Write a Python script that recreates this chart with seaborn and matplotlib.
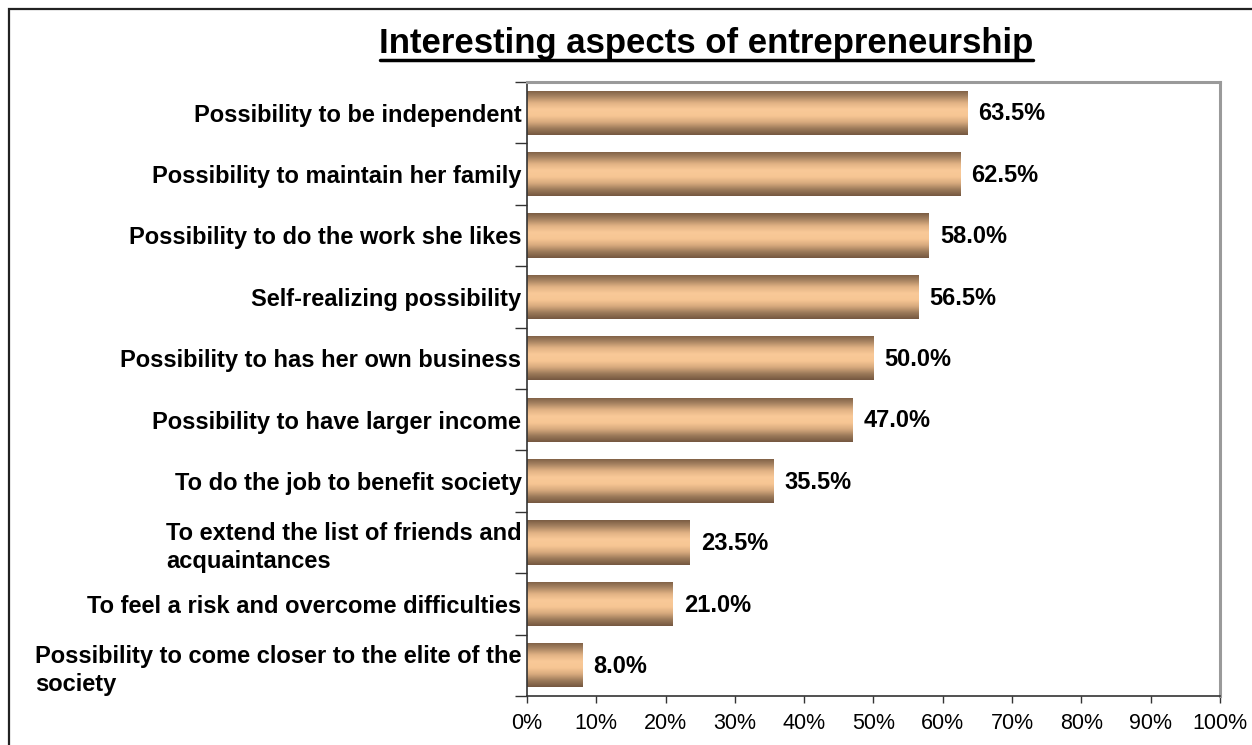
import numpy as np
import pandas as pd
import matplotlib
matplotlib.use("Agg")
import matplotlib.pyplot as plt
import seaborn as sns
from matplotlib.colors import LinearSegmentedColormap
from matplotlib.patches import Rectangle
from matplotlib.ticker import FixedLocator, PercentFormatter

categories = [
    "Possibility to be independent",
    "Possibility to maintain her family",
    "Possibility to do the work she likes",
    "Self-realizing possibility",
    "Possibility to has her own business",
    "Possibility to have larger income",
    "To do the job to benefit society",
    "To extend the list of friends and\nacquaintances",
    "To feel a risk and overcome difficulties",
    "Possibility to come closer to the elite of the\nsociety",
]
values = [63.5, 62.5, 58.0, 56.5, 50.0, 47.0, 35.5, 23.5, 21.0, 8.0]
x_ticks = [0, 10, 20, 30, 40, 50, 60, 70, 80, 90, 100]
title = "Interesting aspects of entrepreneurship"

sns.set_style("white")
plt.rcParams["font.family"] = ["Liberation Sans", "DejaVu Sans"]
plt.rcParams["text.color"] = "black"
plt.rcParams["xtick.color"] = "black"
plt.rcParams["ytick.color"] = "black"

df = pd.DataFrame({"aspect": categories, "share": values})

W, H = 1252, 745
fig = plt.figure(figsize=(W / 100, H / 100), dpi=100)
ax = fig.add_axes([527 / W, 1 - 696 / H, (1220 - 527) / W, (696 - 82) / H])

sns.barplot(data=df, y="aspect", x="share", orient="h", width=0.72,
            color="#f6c592", ax=ax)

# cylinder-style shading for each bar
shade = LinearSegmentedColormap.from_list(
    "bar_shade",
    ["#7a5c43", "#a88462", "#e2b385", "#f9c998", "#f7c694", "#d8aa7e", "#9c7a5a", "#745740"],
)
grad = np.linspace(0, 1, 256).reshape(-1, 1)
for patch in ax.patches:
    x0, y0 = patch.get_x(), patch.get_y()
    w, h = patch.get_width(), patch.get_height()
    patch.set_facecolor("none")
    patch.set_edgecolor("none")
    img = ax.imshow(grad, cmap=shade, aspect="auto",
                    extent=(x0, x0 + w, y0 + h, y0), zorder=2,
                    interpolation="bicubic")
    img.set_clip_path(patch)

n = len(categories)
ax.set_xlim(0, 100)
ax.set_ylim(n - 0.5, -0.5)

# value labels
for i, v in enumerate(values):
    ax.annotate(f"{v:.1f}%", xy=(v, i), xytext=(8, 1), textcoords="offset points",
                ha="left", va="center_baseline", fontsize=17, fontweight="bold",
                color="black")

# axes frame
for side in ("top", "right"):
    ax.spines[side].set_color("#9a9a9a")
    ax.spines[side].set_linewidth(2.2)
for side in ("left", "bottom"):
    ax.spines[side].set_color("#333333")
    ax.spines[side].set_linewidth(1.2)

ax.set_xticks(x_ticks)
ax.xaxis.set_major_formatter(PercentFormatter(decimals=0))
ax.tick_params(axis="x", direction="out", length=5, width=1, color="#333333",
               labelsize=15.5, pad=7, bottom=True)

ax.yaxis.set_minor_locator(FixedLocator(np.arange(-0.5, n, 1.0)))
ax.tick_params(axis="y", which="major", length=0, pad=4, labelsize=17)
ax.tick_params(axis="y", which="minor", direction="out", length=9, width=1,
               color="#333333", left=True)
for lbl in ax.get_yticklabels():
    lbl.set_fontweight("bold")
    lbl.set_multialignment("left")
    lbl.set_linespacing(1.3)

ax.set_xlabel("")
ax.set_ylabel("")
ax.grid(False)

# title with underline
fig.text(706 / W, 1 - 43 / H, title, ha="center", va="center",
         fontsize=25, fontweight="bold", color="black")
fig.add_artist(plt.Line2D([380 / W, 1033 / W], [1 - 60 / H, 1 - 60 / H],
                          color="black", linewidth=2.5, transform=fig.transFigure))

# outer chart border
fig.add_artist(Rectangle((9 / W, -0.1), 1.2, 1 - 9 / H + 0.1, transform=fig.transFigure,
                         fill=False, edgecolor="#222222", linewidth=1.6))

fig.savefig("out.png", dpi=100)
